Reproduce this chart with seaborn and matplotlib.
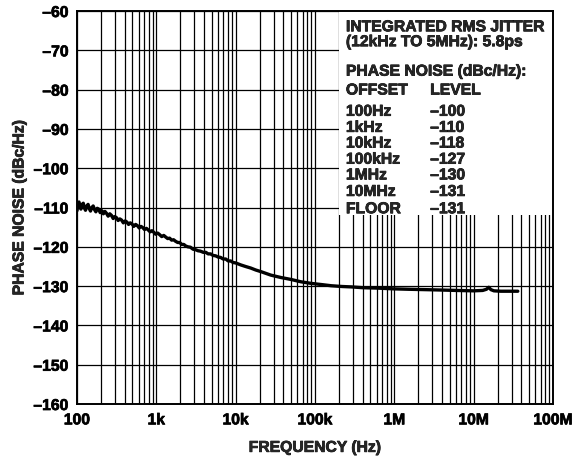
import numpy as np
import pandas as pd
import seaborn as sns
import matplotlib.pyplot as plt
import matplotlib.patheffects as pe
from matplotlib.patches import Rectangle
from matplotlib.ticker import LogLocator, NullFormatter

# phase noise trace
freq_hz = [100, 103, 106, 109, 112, 116, 120, 124, 128, 133, 138, 143, 148,
           154, 160, 166, 173, 180, 188, 196, 205, 215, 225, 236, 247, 259,
           272, 286, 300, 315, 330, 347, 365, 384, 405, 425, 447, 469, 495,
           520, 548, 577, 608, 640, 674, 710, 750, 790, 837, 880, 930, 980,
           1040, 1100, 1170, 1240, 1310, 1390, 1470, 1560, 1650, 1750, 1860,
           1970, 2090, 2220, 2350, 2500, 2690, 2900, 3100, 3350, 3600, 3900,
           4200, 4500, 4830, 5200, 5600, 6000, 6460, 6950, 7500, 8050, 8650,
           9300, 10000, 11570, 13300, 15480, 17900, 20710, 27730, 37000,
           49660, 66500, 88960, 120000, 159600, 220000, 285800, 400000,
           600000, 1000000, 1500000, 2500000, 4000000, 6000000, 10000000,
           13000000, 14500000, 15500000, 16500000, 18000000, 22000000,
           28000000, 36000000]
noise_dbc = [-110.8, -109.0, -108.6, -109.8, -110.4, -109.2, -108.9, -110.1,
             -110.7, -109.6, -109.2, -110.3, -110.9, -110.0, -109.6, -110.5,
             -111.1, -110.2, -110.4, -111.3, -110.8, -111.6, -111.0, -111.5,
             -112.2, -111.6, -112.0, -112.8, -112.3, -112.6, -113.3, -112.9,
             -113.2, -113.9, -113.4, -113.7, -114.3, -113.9, -114.2, -114.8,
             -114.3, -114.6, -115.2, -114.8, -115.1, -115.6, -115.3, -115.7,
             -116.2, -115.9, -116.3, -116.8, -116.5, -116.9, -117.4, -117.1,
             -117.5, -117.9, -117.8, -118.3, -118.2, -118.6, -118.9, -118.9,
             -119.4, -119.4, -119.8, -120.0, -120.1, -120.6, -120.7, -121.0,
             -121.1, -121.4, -121.4, -121.8, -121.8, -122.2, -122.3, -122.6,
             -122.7, -123.1, -123.1, -123.6, -123.6, -124.0, -124.1, -124.6,
             -125.0, -125.4, -125.9, -126.3, -127.2, -127.8, -128.3, -128.9,
             -129.3, -129.6, -129.9, -130.1, -130.2, -130.4, -130.5, -130.7,
             -130.8, -130.9, -131.0, -131.1, -131.2, -131.1, -130.8, -130.3,
             -130.9, -131.2, -131.3, -131.3, -131.3]

x_ticks = [1e2, 1e3, 1e4, 1e5, 1e6, 1e7, 1e8]
x_labels = ["100", "1k", "10k", "100k", "1M", "10M", "100M"]
y_ticks = [-60, -70, -80, -90, -100, -110, -120, -130, -140, -150, -160]
y_labels = ["\u2013" + str(-v) for v in y_ticks]

box_lines = ["INTEGRATED RMS JITTER", "(12kHz TO 5MHz): 5.8ps",
             "PHASE NOISE (dBc/Hz):"]
offsets = ["OFFSET", "100Hz", "1kHz", "10kHz", "100kHz", "1MHz", "10MHz", "FLOOR"]
levels = ["LEVEL", "\u2013100", "\u2013110", "\u2013118", "\u2013127",
          "\u2013130", "\u2013131", "\u2013131"]

sns.set_theme(style="white")
plt.rcParams['font.family'] = ['Liberation Sans', 'DejaVu Sans']
plt.rcParams['font.weight'] = 'bold'

FS = 11.3
heavy = [pe.withStroke(linewidth=0.5, foreground='black')]

df = pd.DataFrame({"freq": freq_hz, "noise": noise_dbc})

fig = plt.figure(figsize=(5.72, 4.63), dpi=100)
ax = fig.add_axes([0.1346, 0.1274, 0.8322, 0.8488])

sns.lineplot(x="freq", y="noise", data=df, ax=ax, color="black",
             linewidth=2.4, sort=False, estimator=None, zorder=3)

ax.set_xscale("log")
ax.set_xlim(1e2, 1e8)
ax.set_ylim(-160, -60)
ax.set_xticks(x_ticks)
ax.set_xticklabels(x_labels, fontsize=FS, fontweight='bold')
ax.xaxis.set_minor_locator(LogLocator(base=10, subs=np.arange(2, 10)))
ax.xaxis.set_minor_formatter(NullFormatter())
ax.set_yticks(y_ticks)
ax.set_yticklabels(y_labels, fontsize=FS, fontweight='bold')
ax.tick_params(which='both', length=0, colors='black')
ax.tick_params(axis='x', pad=6)
ax.tick_params(axis='y', pad=6)
ax.grid(True, which='both', color='black', linewidth=0.9)
for lab in ax.get_xticklabels() + ax.get_yticklabels():
    lab.set_path_effects(heavy)

for s in ax.spines.values():
    s.set_color('black')
    s.set_linewidth(1.4)

ax.set_xlabel("FREQUENCY (Hz)", fontsize=FS, fontweight='bold', labelpad=9,
              path_effects=heavy)
ax.set_ylabel("PHASE NOISE (dBc/Hz)", fontsize=FS, fontweight='bold',
              labelpad=5, path_effects=heavy)

# white box holding the summary text
ax.add_patch(Rectangle((0.550, 0.481), 0.45, 0.519, transform=ax.transAxes,
                       facecolor='white', edgecolor='none', zorder=2.2))

head_y = [0.960, 0.922, 0.847]
for t, y in zip(box_lines, head_y):
    ax.text(0.565, y, t, transform=ax.transAxes, fontsize=FS,
            fontweight='bold', va='center', zorder=4, path_effects=heavy)
row_y = [0.799, 0.745, 0.704, 0.664, 0.623, 0.583, 0.541, 0.497]
for o, lv, y in zip(offsets, levels, row_y):
    ax.text(0.565, y, o, transform=ax.transAxes, fontsize=FS,
            fontweight='bold', va='center', zorder=4, path_effects=heavy)
    ax.text(0.742, y, lv, transform=ax.transAxes, fontsize=FS,
            fontweight='bold', va='center', zorder=4, path_effects=heavy)

fig.savefig("out.png", dpi=100)
